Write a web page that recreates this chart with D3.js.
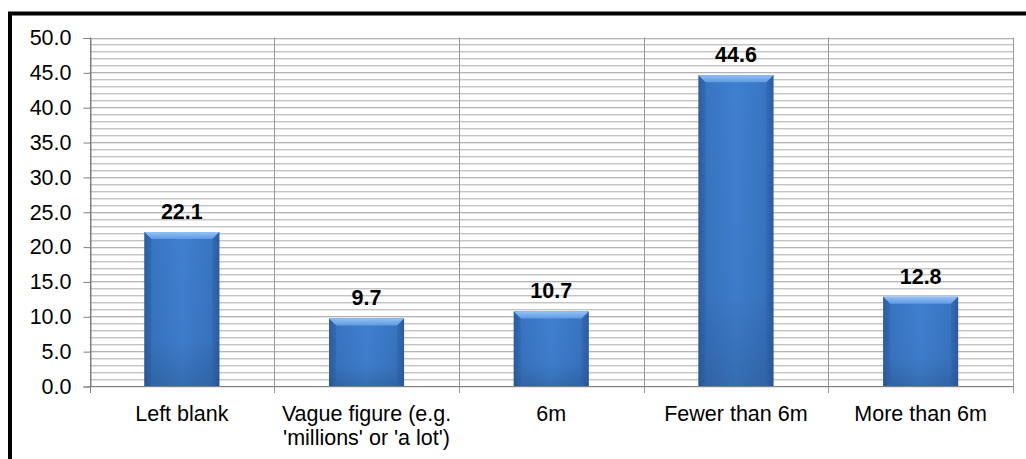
<!doctype html>
<html lang="en">
<head>
<meta charset="utf-8">
<script src="https://d3js.org/d3.v7.min.js"></script>
<title>Estimate of number</title>
<style>
  body { margin: 0; background: #fff; }
  svg { display: block; font-family: "Liberation Sans", Arial, sans-serif; }
</style>
</head>
<body>
<svg id="svg1" width="1026" height="459"></svg>
<script>
// chart data
let categories = ["Left blank", "Vague figure (e.g.\n'millions' or 'a lot')", "6m", "Fewer than 6m", "More than 6m"];
let values = [22.1, 9.7, 10.7, 44.6, 12.8];
let yTicks = [0, 5, 10, 15, 20, 25, 30, 35, 40, 45, 50];
let yMinor = d3.range(0, 51, 1);

let width = 1026, height = 459;
let margin = { top: 37.5, right: 13, bottom: 73, left: 89.5 };
let fontSize = "21.5px";

let svg = d3.select("#svg1");

// frame (runs off the right and bottom of the picture)
svg.append("rect")
  .attr("x", 10).attr("y", 13.5)
  .attr("width", 1100).attr("height", 600)
  .attr("fill", "none").attr("stroke", "#000").attr("stroke-width", 4);

let xScale = d3.scaleBand()
  .domain(categories)
  .range([margin.left, width - margin.right])
  .padding(0);

let yScale = d3.scaleLinear()
  .domain([0, 50])
  .range([height - margin.bottom, margin.top]);

let defs = svg.append("defs");
let gH = defs.append("linearGradient").attr("id", "barH").attr("x1", 0).attr("x2", 1).attr("y1", 0).attr("y2", 0);
gH.append("stop").attr("offset", "0").attr("stop-color", "#2c5d9f");
gH.append("stop").attr("offset", "0.08").attr("stop-color", "#3874c0");
gH.append("stop").attr("offset", "0.5").attr("stop-color", "#3f80d0");
gH.append("stop").attr("offset", "0.92").attr("stop-color", "#3874c0");
gH.append("stop").attr("offset", "1").attr("stop-color", "#2c5d9f");
let gV = defs.append("linearGradient").attr("id", "barV").attr("x1", 0).attr("x2", 0).attr("y1", 0).attr("y2", 1);
gV.append("stop").attr("offset", "0").attr("stop-color", "#000").attr("stop-opacity", 0);
gV.append("stop").attr("offset", "0.7").attr("stop-color", "#000").attr("stop-opacity", 0.03);
gV.append("stop").attr("offset", "1").attr("stop-color", "#000").attr("stop-opacity", 0.15);
let gT = defs.append("linearGradient").attr("id", "barT").attr("x1", 0).attr("x2", 0).attr("y1", 0).attr("y2", 1);
gT.append("stop").attr("offset", "0").attr("stop-color", "#94c2f6");
gT.append("stop").attr("offset", "1").attr("stop-color", "#5f9ae2");

// minor gridlines
let grid = svg.append("g");
grid.selectAll("line.lo")
  .data(yMinor)
  .join("line")
  .attr("class", "lo")
  .attr("x1", margin.left).attr("x2", width - margin.right)
  .attr("y1", d => Math.round(yScale(d)) + 1.5)
  .attr("y2", d => Math.round(yScale(d)) + 1.5)
  .attr("stroke", "#e6e6e6");
grid.selectAll("line.hi")
  .data(yMinor)
  .join("line")
  .attr("class", "hi")
  .attr("x1", margin.left).attr("x2", width - margin.right)
  .attr("y1", d => Math.round(yScale(d)) + 0.5)
  .attr("y2", d => Math.round(yScale(d)) + 0.5)
  .attr("stroke", d => d % 5 === 0 ? "#b4b4b4" : "#c4c4c4");

// category separators
let bounds = categories.map(c => xScale(c)).concat([width - margin.right]);
grid.selectAll("line.sep")
  .data(bounds)
  .join("line")
  .attr("class", "sep")
  .attr("x1", d => Math.round(d) + 0.5).attr("x2", d => Math.round(d) + 0.5)
  .attr("y1", yScale(50)).attr("y2", yScale(0) + 7)
  .attr("stroke", (d, i) => i === 0 ? "#808080" : "#9a9a9a");

// y axis
let yAxis = d3.axisLeft(yScale).tickValues(yTicks).tickSize(7).tickPadding(12).tickFormat(d3.format(".1f"));
let yg = svg.append("g")
  .attr("transform", `translate(${Math.round(margin.left) + 0.5},0.5)`)
  .call(yAxis);
yg.select(".domain").attr("stroke", "#808080");
yg.selectAll(".tick line").attr("stroke", "#808080");
yg.selectAll(".tick text")
  .attr("font-size", fontSize).attr("fill", "#000")
  .attr("font-family", "Liberation Sans, Arial, sans-serif");

// x axis line
svg.append("line")
  .attr("x1", margin.left).attr("x2", width - margin.right)
  .attr("y1", Math.round(yScale(0)) + 0.5).attr("y2", Math.round(yScale(0)) + 0.5)
  .attr("stroke", "#808080");

// bars
let barW = xScale.bandwidth() * 0.406;
let bars = svg.append("g").selectAll("g")
  .data(values)
  .join("g")
  .attr("transform", (d, i) => `translate(${xScale(categories[i]) + (xScale.bandwidth() - barW) / 2},${yScale(d)})`);

bars.append("rect")
  .attr("width", barW)
  .attr("height", d => yScale(0) - yScale(d))
  .attr("fill", "url(#barH)");
bars.append("rect")
  .attr("width", barW)
  .attr("height", d => yScale(0) - yScale(d))
  .attr("fill", "url(#barV)");
// bevelled top edge
bars.append("path")
  .attr("d", `M0,0 L${barW},0 L${barW - 7},7 L7,7 Z`)
  .attr("fill", "url(#barT)");
bars.append("path")
  .attr("d", d => `M0,0 L7,7 L7,${yScale(0) - yScale(d) - 4} L0,${yScale(0) - yScale(d)} Z`)
  .attr("fill", "#2b5ea3").attr("opacity", 0.45);
bars.append("path")
  .attr("d", d => `M${barW},0 L${barW - 7},7 L${barW - 7},${yScale(0) - yScale(d) - 4} L${barW},${yScale(0) - yScale(d)} Z`)
  .attr("fill", "#2b5ea3").attr("opacity", 0.45);

// value labels
svg.append("g").selectAll("text")
  .data(values)
  .join("text")
  .attr("x", (d, i) => xScale(categories[i]) + xScale.bandwidth() / 2)
  .attr("y", d => yScale(d) - 13)
  .attr("text-anchor", "middle")
  .attr("font-size", fontSize)
  .attr("font-weight", "bold")
  .attr("fill", "#000")
  .text(d => d.toFixed(1));

// category labels
let cl = svg.append("g").selectAll("text")
  .data(categories)
  .join("text")
  .attr("x", d => xScale(d) + xScale.bandwidth() / 2)
  .attr("y", 421)
  .attr("text-anchor", "middle")
  .attr("font-size", fontSize)
  .attr("fill", "#000");
cl.each(function (d) {
  d3.select(this).selectAll("tspan")
    .data(d.split("\n"))
    .join("tspan")
    .attr("x", d3.select(this).attr("x"))
    .attr("dy", (t, j) => j === 0 ? 0 : 24)
    .text(t => t);
});
</script>
</body>
</html>
